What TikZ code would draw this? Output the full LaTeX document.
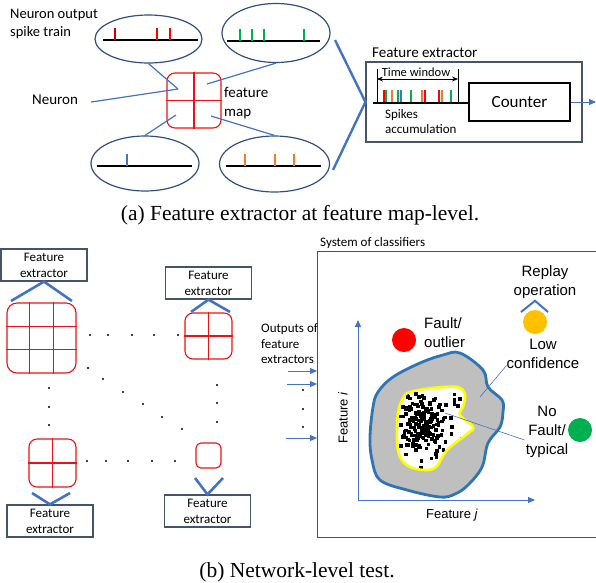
\documentclass[tikz,border=0pt]{standalone}
\usepackage{fontspec}
\setmainfont{Carlito}
\newfontfamily\arialf{Liberation Sans}
\newfontfamily\timesf{Liberation Serif}
\usetikzlibrary{arrows.meta,shapes.geometric,calc}
\definecolor{lblue}{HTML}{4472C4}
\definecolor{boxc}{HTML}{44546A}
\definecolor{ellc}{HTML}{2F4F80}
\definecolor{gridred}{HTML}{EE1111}
\definecolor{spkred}{HTML}{FF0000}
\definecolor{spkgreen}{HTML}{00B050}
\definecolor{spkorange}{HTML}{ED7D31}
\definecolor{spkblue}{HTML}{4472C4}
\definecolor{outblue}{HTML}{2E75B6}
\definecolor{blobgray}{HTML}{BFBFBF}
\definecolor{ylw}{HTML}{FFFF00}
\definecolor{lowor}{HTML}{FFC000}
\tikzset{
  txt/.style={inner sep=0pt, font={\fontsize{#1}{#1}\selectfont}},
  ell/.style={ellipse, draw=ellc, line width=1.2pt, inner sep=0pt},
  fmap/.style={draw=gridred, line width=1.1pt, rounded corners=8pt, inner sep=0pt},
  febox/.style={draw=boxc, line width=1.2pt, inner sep=0pt, minimum width=86pt, minimum height=32pt, align=center, font={\fontsize{13}{16}\selectfont}},
  conn/.style={draw=lblue, line width=1.2pt},
  chev/.style={draw=lblue, line width=2.6pt},
  thin/.style={draw=lblue, line width=0.6pt},
  base/.style={draw=black, line width=2pt},
  spk/.style={line width=2pt},
  dotn/.style={circle, fill=black, inner sep=0pt, minimum size=2.4pt},
  circ/.style={circle, inner sep=0pt, minimum size=24pt},
  cls/.style={inner sep=0pt, align=center, font={\arialf\fontsize{15}{19}\selectfont}},
  arr/.style={draw=lblue, line width=1pt, -{Triangle[length=7pt,width=6pt]}},
}
\begin{document}
\begin{tikzpicture}[x=1pt,y=-1pt]
\useasboundingbox (0,0) rectangle (596,582);
\clip (0,0) rectangle (596,582);
% ---------------- part (a) ----------------
\node[inner sep=0pt, anchor=west, align=left, font={\fontsize{14.5}{18}\selectfont}] (nout) at (10,24) {Neuron output\\spike train};
\node[ell, minimum width=107pt, minimum height=48pt] (e1) at (148.5,39) {};
\node[ell, minimum width=108pt, minimum height=59pt] (e2) at (276,33) {};
\node[ell, minimum width=108pt, minimum height=55pt] (e3) at (145,163.5) {};
\node[ell, minimum width=110pt, minimum height=56pt] (e4) at (274.5,164) {};
% spike trains
\draw[base] (103,40) -- (198,40);
\foreach \x/\c in {115/red!80!black,157/spkred,170/spkred} \draw[spk,\c] (\x,40) -- (\x,28);
\draw[base] (227,41) -- (320,41);
\foreach \x in {240,252,264,304} \draw[spk,spkgreen] (\x,41) -- (\x,29);
\draw[base] (97,166) -- (192,166);
\draw[spk,spkblue] (127,166) -- (127,154);
\draw[base] (226,166) -- (321,166);
\foreach \x in {245,275,294} \draw[spk,spkorange] (\x,166) -- (\x,154);
% feature map
\node[fmap, minimum width=54pt, minimum height=55pt] (fm) at (194,100.5) {};
\draw[gridred, line width=1.1pt] (fm.north) -- (fm.south) (fm.west) -- (fm.east);
\coordinate (c1) at (178,89);
\coordinate (c2) at (207,84);
\coordinate (c3) at (176,115);
\coordinate (c4) at (211,116);
\draw[conn] (e1.south) -- (c1);
\draw[conn] (e2.south) -- (c2);
\draw[conn] (e3.north) -- (c3);
\draw[conn] (e4.north) -- (c4);
\node[txt=15, anchor=west] (neuron) at (32,100) {Neuron};
\draw[conn] ($(neuron.east)+(13,2)$) -- (c1);
\node[inner sep=0pt, anchor=west, align=left, font={\fontsize{15}{19}\selectfont}] (fmt) at (224,103.5) {feature\\map};
% feature extractor
\node[draw=boxc, line width=1.2pt, inner sep=0pt, minimum width=216pt, minimum height=80pt] (fe) at (474,102) {};
\node[txt=15, anchor=west] (fet) at (372,53) {Feature extractor};
\coordinate (gt) at (335,40);
\coordinate (gb) at (333,170);
\draw[chev, line width=2.4pt] (gt) -- (fe.west) -- (gb);
\node[draw=black, line width=1.2pt, inner sep=0pt, minimum width=101pt, minimum height=38pt, font={\fontsize{17}{20}\selectfont}] (cnt) at (519.5,102) {Counter};
\coordinate (bl) at (373,103);
\draw[black, line width=1.6pt] (bl) -- (cnt.west |- bl);
\coordinate (tw1) at (377,69);
\coordinate (tw2) at (458,69);
\draw[black, line width=1pt] (tw1) -- (tw1 |- bl) (tw2) -- (tw2 |- bl);
\draw[black, line width=0.8pt, {Stealth[length=6pt,width=5pt]}-{Stealth[length=6pt,width=5pt]}] (tw1 |- 0,79) -- (tw2 |- 0,79);
\node[txt=12.5, fill=white, inner sep=0.5pt] (twt) at (416,72) {Time window};
\foreach \x/\c in {384/spkred,386/spkgreen,392/spkorange,398/spkgreen,401/spkblue,411/spkgreen,422/spkorange,425/spkred,439/spkred,442/spkorange,451/spkgreen}
  \draw[\c, line width=1.8pt] (\x,102) -- (\x,90);
\node[inner sep=0pt, anchor=west, align=left, font={\fontsize{13}{15}\selectfont}] (spt) at (385,121.5) {Spikes\\accumulation};
\coordinate (oa) at (596,102);
\draw[arr] (cnt.east) -- (oa);
\node[inner sep=0pt, font={\timesf\fontsize{21.5}{25}\selectfont}] (capa) at (300,215) {(a) Feature extractor at feature map-level.};
% ---------------- part (b) ----------------
\node[febox] (fe1) at (44,265) {Feature\\extractor};
\node[febox] (fe2) at (208.5,283) {Feature\\extractor};
\node[febox] (fe3) at (50,521) {Feature\\extractor};
\node[febox] (fe4) at (207.5,511) {Feature\\extractor};
% grids
\node[fmap, rounded corners=10pt, minimum width=69pt, minimum height=70pt] (g1) at (41.5,338) {};
\draw[gridred, line width=1.1pt]
  ($(g1.north west)!0.333!(g1.north east)$) -- ($(g1.south west)!0.333!(g1.south east)$)
  ($(g1.north west)!0.667!(g1.north east)$) -- ($(g1.south west)!0.667!(g1.south east)$)
  ($(g1.north west)!0.333!(g1.south west)$) -- ($(g1.north east)!0.333!(g1.south east)$)
  ($(g1.north west)!0.667!(g1.south west)$) -- ($(g1.north east)!0.667!(g1.south east)$);
\node[fmap, minimum width=47pt, minimum height=46pt] (g2) at (208.5,336) {};
\draw[gridred, line width=1.1pt] (g2.north) -- (g2.south) (g2.west) -- (g2.east);
\node[fmap, minimum width=47pt, minimum height=48pt] (g3) at (52.5,463) {};
\draw[gridred, line width=1.1pt] (g3.north) -- (g3.south) (g3.west) -- (g3.east);
\node[fmap, rounded corners=5pt, minimum width=25pt, minimum height=25pt] (g4) at (208.5,455.5) {};
% chevrons
\draw[chev] (11,301) -- (fe1.south) -- (72,301);
\draw[chev] (191,312) -- (fe2.south) -- (230,312);
\draw[chev] (32,493) -- (fe3.north) -- (70,493);
\draw[chev] (195,478) -- (fe4.north) -- (223,478);
% dots
\foreach \x in {90,108,132,154,178} \node[dotn] at (\x,335) {};
\foreach \x/\y in {88/368,103/379,123/392,143/404,162/417,182/429} \node[dotn] at (\x,\y) {};
\foreach \y in {388,407,425} \node[dotn] at (49,\y) {};
\foreach \y in {385,403,422} \node[dotn] at (217,\y) {};
\foreach \x in {87,106,128,152,175} \node[dotn] at (\x,461) {};
\foreach \y in {390,409,427} \node[dotn] at (303,\y) {};
% classifier system
\node[draw=boxc, line width=1.2pt, inner sep=0pt, minimum width=290pt, minimum height=286pt, anchor=north west] (soc) at (317,251) {};
\node[txt=13, anchor=west] (soct) at (320,243) {System of classifiers};
\node[inner sep=0pt, anchor=west, align=left, font={\fontsize{13}{15.5}\selectfont}] (outt) at (261,344) {Outputs of\\feature\\extractors};
\coordinate (o1) at (288,371);
\coordinate (o2) at (287,384);
\coordinate (o3) at (286,438);
\draw[arr] (o1) -- (o1 -| soc.west);
\draw[arr] (o2) -- (o2 -| soc.west);
\draw[arr] (o3) -- (o3 -| soc.west);
% axes
\coordinate (org) at (358,500);
\coordinate (ytop) at (358,320);
\coordinate (xend) at (535,500);
\draw[arr] (org) -- (ytop);
\draw[arr] (org) -- (xend);
\node[inner sep=0pt, rotate=90, font={\arialf\fontsize{13}{15}\selectfont}] (fi) at (343,418) {Feature \textit{i}};
\node[inner sep=0pt, font={\arialf\fontsize{13}{15}\selectfont}] (fj) at (452,515) {Feature \textit{j}};
% blob
\draw[fill=blobgray, draw=outblue, line width=2.8pt] plot[smooth cycle, tension=0.6] coordinates {
 (460,353) (483,370) (488,387) (502,400) (503,412) (500,427) (488,443) (482,467) (468,485) (455,494) (440,497) (407,490) (380,480) (372,460) (370,437) (373,407) (378,392) (393,377) (420,363) (443,355)};
\def\innerblob{(410,392) (433,388) (457,387) (465,394) (463,407) (460,415) (473,427) (467,434) (447,450) (437,466) (427,470) (410,467) (400,457) (397,440) (398,413) (403,398)}
\fill[white] plot[smooth cycle, tension=0.6] coordinates {\innerblob};
\begin{scope}
\clip plot[smooth cycle, tension=0.6] coordinates {\innerblob};
\pgfmathsetseed{42}
\foreach \i in {1,...,150} {
  \pgfmathsetmacro\px{423+12*(rand+rand)}
  \pgfmathsetmacro\py{423+15*(rand+rand)}
  \fill[black] (\px-1.8,\py-1.8) rectangle ++(3.6,3.6);
}
\foreach \i in {1,...,45} {
  \pgfmathsetmacro\px{430+32*rand}
  \pgfmathsetmacro\py{428+40*rand}
  \fill[black] (\px-1.8,\py-1.8) rectangle ++(3.6,3.6);
}
\end{scope}
\draw[ylw, line width=2.6pt] plot[smooth cycle, tension=0.6] coordinates {\innerblob};
% class labels
\node[circ, fill=red] (fault) at (404,340) {};
\node[cls, anchor=west, align=left] (faultt) at (424,333) {Fault/\\outlier};
\node[circ, fill=lowor] (low) at (535,322) {};
\draw[chev, line width=2pt] (521,312) -- ($(low.north)+(0,-9)$) -- (548,312);
\node[cls] (replay) at (545,282.5) {Replay\\operation};
\node[cls] (lowt) at (543,353.5) {Low\\confidence};
\node[circ, fill=spkgreen] (ok) at (580,430) {};
\node[cls] (okt) at (547,432) {No\\Fault/\\typical};
\coordinate (lowin) at (480,397);
\coordinate (okin) at (445,413);
\draw[thin] ($(lowt.south west)+(0,-3)$) -- (lowin);
\draw[thin] ($(okt.west)+(-1,8)$) -- (okin);
\node[inner sep=0pt, font={\timesf\fontsize{21.5}{25}\selectfont}] (capb) at (297,572) {(b) Network-level test.};
\end{tikzpicture}
\end{document}
